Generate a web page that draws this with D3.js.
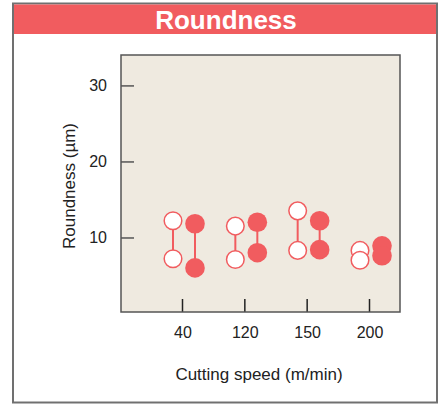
<!DOCTYPE html>
<html>
<head>
<meta charset="utf-8">
<script src="https://cdn.jsdelivr.net/npm/d3@7"></script>
<style>
  body { margin: 0; background: #fff; }
  svg { display: block; font-family: "Liberation Sans", Arial, sans-serif; }
</style>
</head>
<body>
<svg width="445" height="405"></svg>
<script>
// data
let speeds = ['40', '120', '150', '200'];
let openHigh = [12.2, 11.5, 13.5, 8.3];
let openLow = [7.2, 7.1, 8.3, 7.0];
let filledHigh = [11.8, 12.0, 12.2, 8.9];
let filledLow = [6.0, 8.0, 8.4, 7.6];
let yTicks = [10, 20, 30];

let red = '#f15c5f';

let svg = d3.select('svg');

// outer frame + header
svg.append('rect')
  .attr('x', 13).attr('y', 3.5)
  .attr('width', 424).attr('height', 399)
  .attr('fill', '#fff')
  .attr('stroke', '#707070')
  .attr('stroke-width', 2);

svg.append('rect')
  .attr('x', 14).attr('y', 4.5)
  .attr('width', 422).attr('height', 29.5)
  .attr('fill', red);

svg.append('text')
  .attr('x', 226).attr('y', 28.5)
  .attr('text-anchor', 'middle')
  .attr('fill', '#fff')
  .attr('font-size', 26)
  .attr('font-weight', 'bold')
  .text('Roundness');

let margin = { top: 55, left: 121, right: 45, bottom: 93 };
let width = 445 - margin.left - margin.right;
let height = 405 - margin.top - margin.bottom;

let chart = svg.append('g')
  .attr('transform', 'translate(' + margin.left + ', ' + margin.top + ')');

chart.append('rect')
  .attr('width', width).attr('height', height)
  .attr('fill', '#efeae0');

let x = d3.scalePoint()
  .domain(speeds)
  .range([61, 248]);

let y = d3.scaleLinear()
  .domain([0.2, 34])
  .range([height, 0]);

// y axis, ticks pointing inward
let yAxis = d3.axisRight(y).tickValues(yTicks).tickSize(13).tickFormat('');
chart.append('g').call(yAxis)
  .call(g => g.select('.domain').remove())
  .selectAll('line').attr('stroke', '#555').attr('stroke-width', 1.5);

chart.selectAll('.ylab')
  .data(yTicks)
  .enter()
  .append('text')
  .attr('x', -14)
  .attr('y', d => y(d) + 6)
  .attr('text-anchor', 'end')
  .attr('font-size', 16)
  .attr('fill', '#222')
  .text(d => d);

// x axis, ticks pointing inward
let xAxis = d3.axisTop(x).tickSize(13).tickFormat('');
chart.append('g')
  .attr('transform', 'translate(0, ' + height + ')')
  .call(xAxis)
  .call(g => g.select('.domain').remove())
  .selectAll('line').attr('stroke', '#222').attr('stroke-width', 1.5);

chart.selectAll('.xlab')
  .data(speeds)
  .enter()
  .append('text')
  .attr('x', d => x(d) + 1)
  .attr('y', height + 26)
  .attr('text-anchor', 'middle')
  .attr('font-size', 16)
  .attr('fill', '#222')
  .text(d => d);

// frame of the plot
chart.append('rect')
  .attr('width', width).attr('height', height)
  .attr('fill', 'none')
  .attr('stroke', '#555')
  .attr('stroke-width', 1.5);

// axis titles
svg.append('text')
  .attr('x', 259).attr('y', 380)
  .attr('text-anchor', 'middle')
  .attr('font-size', 17)
  .attr('fill', '#222')
  .text('Cutting speed (m/min)');

svg.append('text')
  .attr('transform', 'translate(75, 186) rotate(-90)')
  .attr('text-anchor', 'middle')
  .attr('font-size', 17)
  .attr('fill', '#222')
  .text('Roundness (µm)');

// open series (left of tick) and filled series (right of tick)
let series = [
  { hi: openHigh, lo: openLow, dx: -9, fill: '#fff' },
  { hi: filledHigh, lo: filledLow, dx: 13, fill: red }
];

series.map(function(s) {
  chart.selectAll(null)
    .data(speeds)
    .enter()
    .append('line')
    .attr('x1', d => x(d) + s.dx)
    .attr('x2', d => x(d) + s.dx)
    .attr('y1', (d, i) => y(s.hi[i]))
    .attr('y2', (d, i) => y(s.lo[i]))
    .attr('stroke', red)
    .attr('stroke-width', 2);

  speeds.map(function(sp, i) {
    [s.hi[i], s.lo[i]].map(function(v) {
      chart.append('circle')
        .attr('cx', x(sp) + s.dx)
        .attr('cy', y(v))
        .attr('r', s.fill === '#fff' ? 8.8 : 9.8)
        .attr('fill', s.fill)
        .attr('stroke', s.fill === '#fff' ? red : 'none')
        .attr('stroke-width', 1.5);
    });
  });
});
</script>
</body>
</html>
